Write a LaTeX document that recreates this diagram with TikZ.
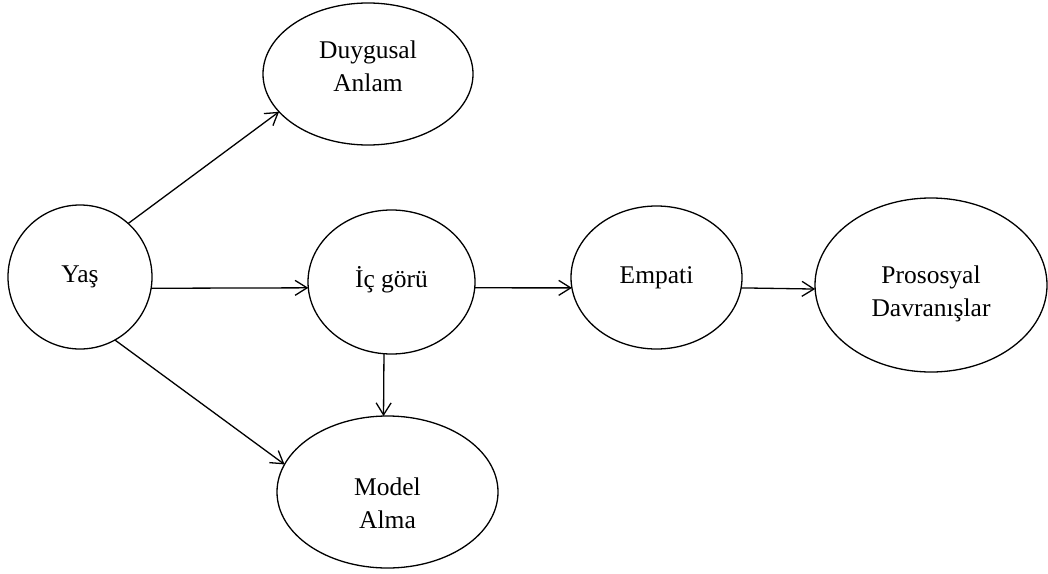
\documentclass[tikz,border=0pt]{standalone}
\usepackage{fontspec}
\setmainfont{Liberation Serif}
\usetikzlibrary{shapes.geometric,arrows.meta}
\begin{document}
\begin{tikzpicture}[x=1pt,y=-1pt,
  ell/.style={draw, ellipse, line width=1.3pt, inner sep=0pt, outer sep=0pt},
  txt/.style={align=center, font=\fontsize{25.5}{33}\selectfont, inner sep=0pt},
  conn/.style={-{Straight Barb[length=12pt,width=15pt]}, line width=1.3pt}]
\useasboundingbox (0,0) rectangle (1048,573);
\node[ell, minimum width=210pt, minimum height=142pt,
  label={[txt,yshift=8pt]center:{Duygusal\\Anlam}}] (duy) at (368,74) {};
\node[ell, minimum width=144pt, minimum height=144pt,
  label={[txt]center:{Yaş}}] (yas) at (80,277) {};
\node[ell, minimum width=167pt, minimum height=144pt,
  label={[txt,yshift=2pt]center:{İç görü}}] (ic) at (391.5,282) {};
\node[ell, minimum width=171pt, minimum height=143pt,
  label={[txt]center:{Empati}}] (emp) at (656.5,277.5) {};
\node[ell, minimum width=232pt, minimum height=174pt,
  label={[txt,yshift=-8.5pt]center:{Prososyal\\Davranışlar}}] (pro) at (931,285) {};
\node[ell, minimum width=221pt, minimum height=152pt,
  label={[txt,yshift=-11pt]center:{Model\\Alma}}] (mod) at (387.5,492) {};
\draw[conn] (yas.48.4) -- (duy.203);
\draw[conn] (yas.-9.3) -- (ic.184.9);
\draw[conn] (yas.-61) -- (mod.165.2);
\draw[conn] (ic.-96.7) -- (mod.93.4);
\draw[conn] (ic.-4.85) -- (emp.187.75);
\draw[conn] (emp.-7.66) -- (pro.182);
\end{tikzpicture}
\end{document}
